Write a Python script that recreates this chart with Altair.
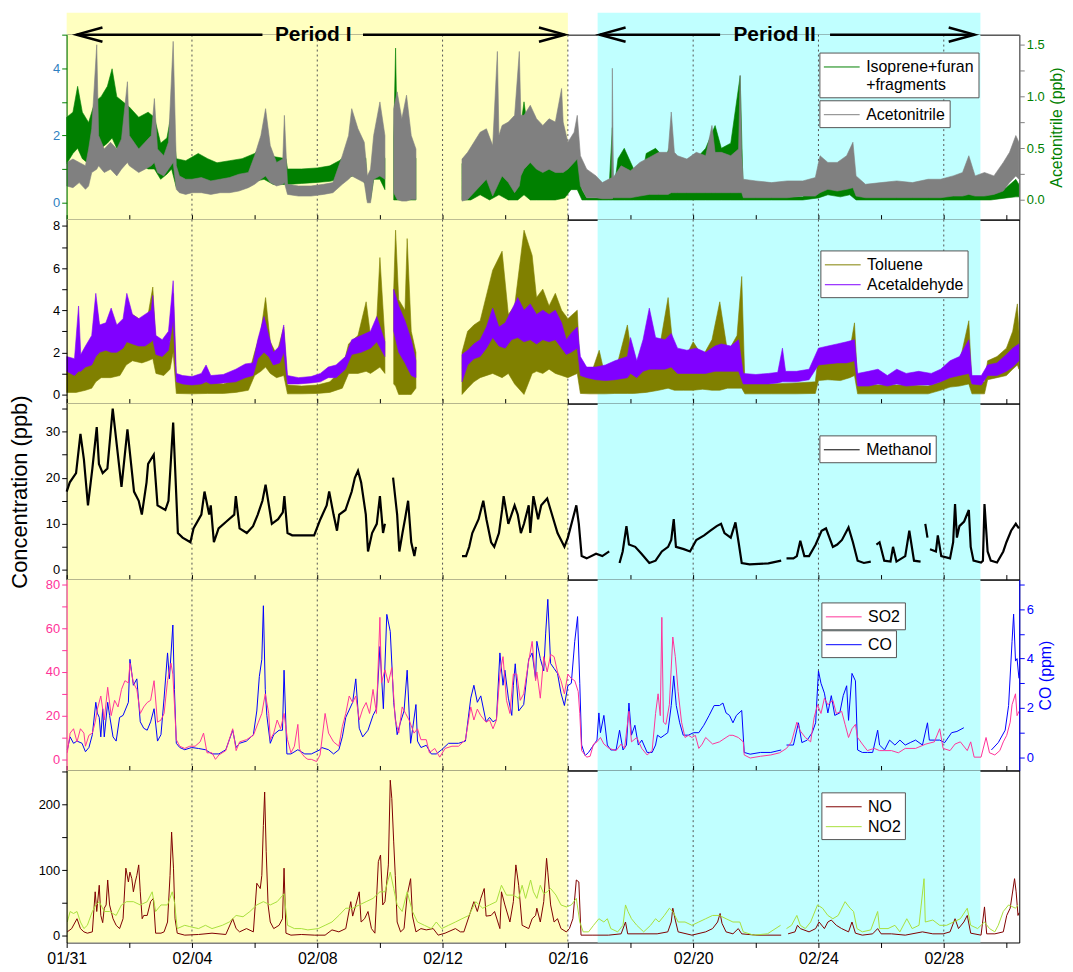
import altair as alt
import pandas as pd

W = 958
X_DOMAIN = [0, 30.41]
FONT = "Liberation Sans"

# ---------------- annotation / layout helpers (days since 01/31 00:00) ----------------
period_names = ["Period I", "Period II"]
period_start = [0.0, 16.95]
period_end = [16.0, 29.17]
grid_days = [4, 8, 12, 16, 20, 24, 28]
x_tick_days = list(range(0, 31, 2))
arrow_seg_start = [0.32, 9.46, 17.02, 24.37]
arrow_seg_end = [6.25, 15.9, 20.86, 28.98]
arrow_left_days = [0.73, 17.43]
arrow_right_days = [15.49, 28.57]
label_days = [7.87, 22.6]

# ---------------- data ----------------
grey_band = [
    (0.0, 0.5, 1.2), (0.2, 0.45, 1.3), (0.4, 0.6, 1.2), (0.6, 0.4, 1.1), (0.7, 0.5, 1.6), (0.8, 0.9, 2.2),
    (0.96, 1.0, 4.7), (1.02, 1.1, 2.0), (1.2, 0.9, 1.6), (1.4, 1.0, 1.8), (1.6, 0.8, 1.6), (1.75, 1.0, 1.9),
    (1.94, 1.2, 3.6), (2.0, 1.1, 2.0), (2.3, 0.9, 1.6), (2.5, 1.0, 1.8), (2.7, 1.1, 2.0), (2.8, 1.2, 3.1),
    (2.9, 0.9, 1.6), (3.1, 0.8, 1.4), (3.25, 1.0, 1.8), (3.4, 1.2, 4.8), (3.5, 0.4, 1.1), (3.6, 0.3, 0.8),
    (3.8, 0.25, 0.7), (4.0, 0.3, 0.7), (4.3, 0.3, 0.75), (4.6, 0.25, 0.65), (4.9, 0.3, 0.7), (5.2, 0.3, 0.75),
    (5.5, 0.35, 0.85), (5.8, 0.45, 0.9), (6.0, 0.55, 1.4), (6.2, 0.7, 2.0), (6.35, 0.8, 2.8), (6.5, 0.6, 1.7),
    (6.7, 0.5, 1.2), (6.9, 0.55, 1.3), (6.95, 0.6, 2.6), (7.05, 0.25, 0.55), (7.4, 0.2, 0.5), (7.8, 0.2, 0.5),
    (8.2, 0.25, 0.55), (8.5, 0.3, 0.6), (8.8, 0.55, 1.4), (9.0, 0.7, 2.0), (9.1, 0.8, 2.8), (9.3, 0.7, 2.2),
    (9.5, 0.6, 1.8), (9.6, 0.0, 0.8), (9.7, 0.0, 1.0), (9.8, 0.7, 2.0), (10.0, 0.8, 3.0), (10.16, 0.7, 2.0),
    (10.3, None, None), (10.44, 0.3, 2.8), (10.55, 0.1, 3.3), (10.7, 0.05, 2.5), (10.85, 0.05, 3.2),
    (11.0, 0.1, 2.0), (11.15, 0.1, 1.6), (11.9, None, None), (12.62, 0.05, 1.3), (12.8, 0.1, 1.5),
    (13.0, 0.3, 1.8), (13.2, 0.5, 2.1), (13.4, 0.7, 2.2), (13.6, 0.2, 1.7), (13.75, 0.5, 4.5), (13.8, 0.6, 2.0),
    (13.9, 0.8, 2.3), (14.1, 0.6, 2.4), (14.3, 0.3, 2.6), (14.45, 0.5, 4.5), (14.5, 0.8, 2.6), (14.6, 1.0, 2.6),
    (14.8, 1.2, 2.9), (15.0, 1.0, 2.5), (15.2, 0.9, 2.3), (15.4, 1.0, 2.5), (15.6, 0.9, 2.4), (15.8, 0.9, 3.4),
    (15.85, 0.9, 2.4), (16.0, 1.0, 1.8), (16.2, 1.2, 2.1), (16.3, 1.3, 2.6), (16.4, 0.5, 1.4),
    (16.6, 0.15, 1.0), (16.9, 0.15, 0.8), (17.1, 0.12, 0.6), (17.4, 0.12, 0.75), (17.42, 0.12, 4.0),
    (17.45, 0.15, 0.75), (17.7, 0.15, 1.1), (18.0, 0.15, 0.95), (18.3, 0.2, 1.2), (18.6, 0.25, 1.35),
    (18.9, 0.25, 1.5), (19.2, 0.25, 1.5), (19.3, 0.3, 2.7), (19.4, 0.3, 1.5), (19.5, 0.3, 1.4), (19.8, 0.3, 1.3),
    (20.1, 0.3, 1.5), (20.4, 0.3, 1.4), (20.6, 0.3, 2.3), (20.7, 0.3, 1.5), (20.9, 0.3, 1.5), (21.2, 0.3, 1.4),
    (21.45, 0.3, 1.6), (21.5, 0.3, 3.8), (21.55, 0.3, 1.4), (21.6, 0.15, 0.7), (22.0, 0.15, 0.65),
    (22.5, 0.15, 0.6), (23.0, 0.15, 0.65), (23.5, 0.2, 0.65), (23.9, 0.2, 0.75), (24.05, 0.3, 1.4),
    (24.3, 0.4, 1.2), (24.6, 0.35, 1.2), (24.9, 0.4, 1.4), (25.1, 0.45, 1.8), (25.2, 0.2, 0.8),
    (25.5, 0.15, 0.55), (26.0, 0.15, 0.6), (26.5, 0.15, 0.65), (27.0, 0.15, 0.6), (27.5, 0.15, 0.7),
    (27.9, 0.15, 0.7), (28.3, 0.2, 0.8), (28.6, 0.2, 0.9), (28.8, 0.25, 1.4), (29.0, 0.2, 0.8),
    (29.3, 0.2, 0.9), (29.6, 0.25, 0.8), (29.9, 0.35, 1.2), (30.1, 0.6, 1.5), (30.3, 0.8, 2.0), (30.4, 0.7, 1.8),
]
green_band = [
    (0.0, 0.35, 0.8), (0.2, 0.45, 0.85), (0.35, 0.5, 1.1), (0.5, 0.4, 0.85), (0.7, 0.35, 0.75), (0.9, 0.45, 0.95),
    (1.1, 0.5, 1.0), (1.3, 0.55, 1.1), (1.45, 0.6, 1.27), (1.6, 0.5, 1.0), (1.8, 0.45, 0.95), (2.0, 0.4, 0.9),
    (2.3, 0.35, 0.8), (2.6, 0.3, 0.85), (2.8, 0.3, 0.8), (3.0, 0.2, 0.55), (3.2, 0.25, 0.6), (3.35, 0.3, 0.85),
    (3.5, 0.12, 0.4), (3.8, 0.12, 0.38), (4.2, 0.15, 0.45), (4.5, 0.14, 0.4), (4.8, 0.13, 0.36),
    (5.2, 0.13, 0.38), (5.6, 0.15, 0.4), (6.0, 0.18, 0.45), (6.3, 0.2, 0.55), (6.6, 0.15, 0.42),
    (7.0, 0.15, 0.4), (7.05, 0.15, 0.3), (7.5, 0.16, 0.3), (8.0, 0.17, 0.31), (8.4, 0.18, 0.33),
    (8.7, 0.2, 0.38), (9.0, 0.22, 0.45), (9.3, 0.25, 0.5), (9.55, 0.15, 0.4), (9.6, 0.0, 0.05),
    (9.7, 0.0, 0.1), (9.8, 0.2, 0.4), (10.0, 0.2, 0.55), (10.16, 0.1, 0.4), (10.3, None, None),
    (10.44, 0.0, 0.6), (10.5, 0.0, 1.47), (10.55, 0.0, 0.6), (10.8, 0.0, 0.8), (11.0, 0.0, 0.5),
    (11.15, 0.0, 0.4), (11.9, None, None), (12.62, 0.0, 0.35), (12.9, 0.0, 0.45), (13.2, 0.05, 0.5),
    (13.5, 0.0, 0.4), (13.8, 0.05, 0.55), (14.1, 0.0, 0.45), (14.4, 0.0, 0.5), (14.6, 0.05, 0.95),
    (14.8, 0.0, 0.5), (15.0, 0.0, 0.4), (15.3, 0.0, 0.45), (15.6, 0.0, 0.4), (15.9, 0.02, 0.3),
    (16.1, 0.1, 0.4), (16.3, 0.1, 0.46), (16.45, 0.0, 0.1), (16.6, 0.0, 0.02), (17.0, 0.0, 0.02),
    (17.3, 0.0, 0.03), (17.42, 0.0, 0.7), (17.45, 0.0, 0.05), (17.6, 0.0, 0.4), (17.8, 0.0, 0.5),
    (18.1, 0.0, 0.3), (18.3, 0.0, 0.1), (18.5, 0.0, 0.45), (18.8, 0.0, 0.5), (19.1, 0.0, 0.4),
    (19.3, 0.0, 0.55), (19.5, 0.0, 0.3), (19.8, 0.0, 0.35), (20.1, 0.0, 0.4), (20.4, 0.0, 0.5),
    (20.7, 0.0, 0.72), (20.9, 0.0, 0.5), (21.2, 0.0, 0.55), (21.5, 0.0, 1.2), (21.6, 0.0, 0.03),
    (22.5, 0.0, 0.03), (23.5, 0.0, 0.03), (24.0, 0.02, 0.18), (24.3, 0.05, 0.23), (24.7, 0.03, 0.2),
    (25.0, 0.05, 0.25), (25.2, 0.0, 0.05), (26.0, 0.0, 0.04), (27.0, 0.0, 0.05), (28.0, 0.0, 0.05),
    (28.8, 0.0, 0.1), (29.5, 0.0, 0.05), (30.0, 0.02, 0.12), (30.3, 0.03, 0.2), (30.4, 0.03, 0.15),
]
toluene_band = [
    (0.0, 0.1, 1.1), (0.3, 0.1, 1.2), (0.6, 0.2, 1.6), (0.8, 0.3, 2.1), (0.93, 0.6, 4.4), (1.1, 0.8, 2.7),
    (1.4, 0.8, 2.9), (1.7, 0.9, 2.7), (1.9, 1.4, 3.6), (2.1, 1.6, 3.8), (2.4, 1.5, 3.5), (2.6, 1.6, 3.8),
    (2.75, 1.7, 5.1), (2.85, 1.0, 2.3), (3.1, 0.9, 2.1), (3.3, 1.2, 2.5), (3.4, 2.0, 4.8), (3.5, 0.05, 0.6),
    (4.0, 0.03, 0.5), (4.5, 0.05, 0.6), (5.0, 0.05, 0.5), (5.4, 0.1, 0.7), (5.8, 0.2, 0.9), (6.0, 0.9, 2.0),
    (6.2, 1.1, 3.0), (6.35, 1.3, 4.6), (6.5, 1.0, 2.5), (6.7, 0.8, 1.9), (6.93, 0.9, 3.2), (7.05, 0.03, 0.45),
    (7.5, 0.03, 0.4), (8.0, 0.05, 0.45), (8.4, 0.1, 0.6), (8.8, 0.3, 1.2), (9.0, 1.0, 2.4), (9.3, 1.0, 2.8),
    (9.56, 1.1, 4.4), (9.7, 1.0, 2.8), (9.9, 1.2, 3.6), (10.0, 1.3, 6.5), (10.16, 1.0, 2.6), (10.3, None, None),
    (10.44, 0.5, 5.0), (10.5, 0.4, 7.8), (10.6, 0.0, 4.5), (10.8, 0.0, 4.0), (10.87, 0.0, 7.4),
    (11.0, 0.0, 3.0), (11.15, 0.3, 2.0), (11.9, None, None), (12.62, 0.0, 2.0), (12.8, 0.3, 3.0),
    (13.0, 0.6, 3.3), (13.2, 0.8, 3.5), (13.6, 1.0, 5.9), (13.9, 0.8, 6.8), (14.1, 1.0, 3.8), (14.3, 0.5, 4.2),
    (14.6, 0.0, 7.8), (14.86, 1.0, 6.6), (15.0, 1.1, 4.6), (15.2, 1.0, 5.0), (15.4, 1.2, 4.2),
    (15.6, 1.0, 4.8), (15.8, 0.9, 4.0), (16.0, 0.8, 3.6), (16.3, 1.0, 4.0), (16.4, 0.05, 1.0),
    (16.7, 0.03, 0.8), (17.0, 0.03, 2.1), (17.2, 0.03, 0.8), (17.5, 0.05, 1.0), (17.9, 0.05, 3.3),
    (18.1, 0.05, 1.2), (18.5, 0.1, 1.5), (18.9, 0.2, 2.0), (19.2, 0.3, 4.6), (19.4, 0.2, 1.6),
    (19.7, 0.2, 1.6), (20.0, 0.2, 2.5), (20.3, 0.25, 1.8), (20.6, 0.2, 2.6), (20.85, 0.2, 4.4),
    (21.1, 0.3, 2.0), (21.4, 0.3, 2.8), (21.55, 0.3, 5.6), (21.65, 0.03, 0.6), (22.5, 0.03, 0.5),
    (23.3, 0.03, 0.55), (23.9, 0.05, 0.6), (24.0, 0.66, 1.9), (24.3, 0.7, 1.7), (24.7, 0.66, 1.9),
    (25.0, 0.8, 2.1), (25.15, 0.9, 3.4), (25.25, 0.03, 0.5), (26.0, 0.03, 0.45), (26.8, 0.03, 0.45),
    (27.5, 0.03, 0.4), (27.9, 0.2, 0.6), (28.2, 0.35, 1.2), (28.5, 0.4, 1.5), (28.8, 0.5, 3.5),
    (28.9, 0.03, 0.5), (29.3, 0.03, 0.6), (29.4, 0.7, 1.6), (29.7, 0.8, 1.8), (30.0, 0.9, 2.2),
    (30.2, 1.2, 3.0), (30.35, 1.4, 4.3), (30.4, 1.2, 3.0),
]
acetaldehyde_band = [
    (0.0, 1.1, 1.8), (0.25, 0.9, 1.7), (0.38, 1.1, 4.2), (0.45, 1.1, 1.9), (0.6, 1.3, 2.3), (0.8, 1.4, 2.8),
    (0.93, 1.8, 4.8), (1.05, 2.0, 3.3), (1.25, 2.1, 3.4), (1.42, 2.0, 4.1), (1.6, 2.0, 3.3), (1.8, 2.2, 3.6),
    (1.92, 2.5, 4.8), (2.1, 2.4, 3.8), (2.3, 2.3, 3.6), (2.5, 2.3, 3.8), (2.7, 2.5, 4.0), (2.75, 2.6, 4.7),
    (2.85, 1.9, 2.8), (3.05, 1.8, 2.6), (3.25, 2.1, 3.0), (3.4, 3.5, 5.4), (3.5, 0.6, 1.0), (3.7, 0.5, 0.9),
    (4.0, 0.45, 0.85), (4.3, 0.5, 1.0), (4.45, 0.6, 1.4), (4.6, 0.5, 0.9), (5.0, 0.55, 0.95), (5.4, 0.6, 1.2),
    (5.7, 0.8, 1.45), (5.95, 0.9, 1.5), (6.1, 1.7, 2.6), (6.3, 2.0, 3.7), (6.45, 1.8, 2.8), (6.6, 1.4, 2.0),
    (6.8, 1.5, 2.3), (6.93, 2.0, 3.3), (7.05, 0.5, 0.9), (7.4, 0.5, 0.8), (7.8, 0.55, 0.85), (8.1, 0.6, 1.0),
    (8.35, 0.8, 1.3), (8.6, 0.8, 1.4), (8.9, 1.2, 1.8), (9.1, 1.9, 2.6), (9.4, 2.0, 2.8), (9.7, 2.2, 3.0),
    (9.9, 2.5, 3.7), (10.16, 1.8, 2.5), (10.3, None, None), (10.44, 3.0, 5.0), (10.6, 2.0, 4.2),
    (10.8, 1.5, 3.5), (11.0, 0.9, 2.6), (11.15, 0.8, 1.6), (11.9, None, None), (12.62, 0.6, 1.9),
    (12.8, 1.4, 2.1), (13.0, 1.7, 2.4), (13.2, 1.8, 2.6), (13.4, 2.2, 3.2), (13.6, 2.7, 4.1), (13.8, 2.3, 3.2),
    (14.0, 2.2, 3.4), (14.2, 2.6, 4.0), (14.4, 2.7, 4.6), (14.6, 2.5, 4.0), (14.8, 2.6, 4.3), (15.0, 2.4, 3.8),
    (15.2, 2.6, 4.0), (15.4, 2.5, 3.8), (15.6, 2.6, 4.0), (15.8, 2.2, 3.4), (15.95, 1.9, 2.6), (16.1, 2.0, 2.9),
    (16.3, 2.2, 3.2), (16.4, 0.9, 1.8), (16.6, 0.8, 1.3), (16.9, 0.7, 1.3), (17.2, 0.66, 1.4), (17.5, 0.7, 1.6),
    (17.9, 0.8, 1.8), (18.0, 1.0, 2.7), (18.2, 0.8, 1.6), (18.4, 1.1, 2.6), (18.6, 1.2, 4.1), (18.8, 1.2, 2.7),
    (19.1, 1.2, 2.6), (19.3, 1.3, 2.9), (19.5, 1.0, 2.2), (19.8, 1.0, 2.1), (20.1, 1.0, 2.2), (20.4, 1.0, 2.0),
    (20.7, 1.1, 2.3), (20.9, 1.1, 2.4), (21.2, 1.1, 2.3), (21.45, 1.1, 2.6), (21.6, 0.5, 1.0), (22.0, 0.5, 0.95),
    (22.4, 0.5, 1.0), (22.7, 0.55, 1.05), (22.85, 0.6, 2.2), (22.95, 0.6, 1.1), (23.3, 0.6, 1.1),
    (23.7, 0.7, 1.2), (24.0, 1.4, 2.2), (24.3, 1.45, 2.3), (24.6, 1.5, 2.4), (24.9, 1.5, 2.5), (25.15, 1.6, 2.6),
    (25.25, 0.4, 1.0), (25.6, 0.4, 1.1), (25.9, 0.5, 1.2), (26.2, 0.4, 0.9), (26.5, 0.5, 1.2), (26.8, 0.4, 1.0),
    (27.2, 0.45, 1.1), (27.6, 0.45, 1.0), (27.9, 0.6, 1.2), (28.2, 0.8, 1.6), (28.5, 0.9, 1.8), (28.8, 1.0, 2.6),
    (28.9, 0.5, 0.9), (29.2, 0.45, 0.9), (29.4, 0.9, 1.4), (29.7, 0.9, 1.5), (30.0, 1.1, 1.9), (30.2, 1.3, 2.2),
    (30.4, 1.6, 2.4),
]
methanol = [
    (0.0, 17), (0.1, 19), (0.3, 21), (0.44, 29.5), (0.55, 24), (0.68, 14), (0.82, 22), (0.96, 31), (1.03, 23),
    (1.15, 21), (1.3, 22), (1.47, 35), (1.75, 18), (1.94, 30.5), (2.15, 17), (2.3, 15), (2.4, 12), (2.55, 19),
    (2.6, 23), (2.78, 25), (2.9, 14), (3.15, 13), (3.25, 15), (3.4, 32), (3.55, 8), (3.7, 7), (3.95, 6),
    (4.05, 9), (4.3, 12), (4.4, 17), (4.55, 12), (4.6, 14), (4.7, 6), (4.85, 9), (5.1, 10.5), (5.35, 12),
    (5.4, 16), (5.52, 9), (5.75, 8), (5.95, 9.5), (6.1, 12), (6.25, 15), (6.35, 18.5), (6.55, 10), (6.75, 11),
    (6.9, 12.5), (6.95, 16), (7.05, 8), (7.2, 7.5), (7.6, 7.5), (7.9, 7.5), (8.1, 11), (8.3, 14), (8.38, 17),
    (8.52, 12), (8.63, 8.5), (8.7, 12), (8.9, 13), (9.1, 17), (9.2, 20), (9.3, 21.5), (9.4, 19), (9.55, 12),
    (9.62, 4), (9.75, 8), (9.9, 10), (10.0, 16), (10.1, 8), (10.16, 10), (10.3, None), (10.42, 20),
    (10.55, 12), (10.62, 4), (10.72, 8), (10.8, 11), (10.9, 15), (11.0, 6), (11.1, 3), (11.15, 5),
    (11.9, None), (12.62, 3), (12.75, 3), (12.85, 5), (12.95, 8), (13.15, 11), (13.3, 15), (13.4, 11),
    (13.55, 6), (13.65, 5), (13.8, 8), (13.9, 13), (13.95, 16), (14.1, 10), (14.3, 14), (14.4, 12), (14.5, 8),
    (14.6, 10), (14.75, 14), (14.8, 8), (14.9, 16), (15.05, 11), (15.15, 14), (15.34, 15.5), (15.45, 13),
    (15.67, 8), (15.89, 5), (16.0, 7), (16.27, 14), (16.35, 10), (16.44, 3), (16.6, 2.5), (16.9, 3.5),
    (17.1, 3), (17.32, 4), (17.5, None), (17.65, 1.5), (17.75, 4), (17.87, 9.5), (17.95, 5.5), (18.15, 5),
    (18.35, 3.5), (18.6, 1.5), (18.8, 2), (19.0, 4), (19.2, 5), (19.3, 6.5), (19.38, 11), (19.45, 5),
    (19.7, 4.5), (19.9, 4), (20.1, 6.5), (20.35, 7.5), (20.55, 8.5), (20.75, 9.5), (20.89, 10), (21.0, 8),
    (21.2, 7), (21.35, 10.3), (21.45, 6), (21.55, 1.5), (21.8, 1.2), (22.1, 1.3), (22.4, 1.4), (22.81, 2),
    (22.9, None), (22.98, 2.5), (23.2, 2.5), (23.31, 3), (23.42, 6.3), (23.55, 3), (23.7, 3), (23.91, 5.5),
    (24.1, 8.5), (24.24, 9), (24.35, 7), (24.46, 5), (24.6, 5.5), (24.75, 6.5), (24.96, 9.2), (25.1, 6),
    (25.25, 2), (25.45, 1.5), (25.67, 1.8), (25.76, None), (25.85, 5.5), (25.95, 6), (26.1, 2), (26.3, 1.8),
    (26.38, 5), (26.49, 1.8), (26.77, 3), (26.9, 8.5), (27.05, 2), (27.26, 1.8), (27.33, None), (27.41, 10),
    (27.48, 7), (27.52, None), (27.56, 4.5), (27.75, 4), (27.81, 7.5), (27.92, 3), (28.2, 2.5), (28.3, 6),
    (28.36, 14.3), (28.42, 7), (28.5, 9.5), (28.65, 10.5), (28.8, 13), (28.86, 5), (28.95, 2), (29.19, 1.6),
    (29.25, 2), (29.3, 14.3), (29.4, 4), (29.5, 2), (29.7, 1.6), (29.9, 4), (30.0, 6), (30.15, 8.5),
    (30.3, 10), (30.4, 9),
]
so2 = [
    (0.02, 3), (0.11, 12), (0.22, 14), (0.33, 8), (0.44, 14), (0.55, 12), (0.6, 6), (0.71, 11), (0.82, 12),
    (0.91, 17), (0.98, 23), (1.09, 29), (1.2, 18), (1.31, 33), (1.42, 20), (1.53, 27), (1.64, 24), (1.75, 32),
    (1.86, 36), (1.97, 35), (2.02, 44), (2.13, 35), (2.24, 32), (2.35, 21), (2.46, 24), (2.57, 26), (2.68, 27),
    (2.79, 36), (2.9, 17), (3.01, 18), (3.11, 21), (3.22, 36), (3.33, 44), (3.39, 39), (3.5, 9), (3.61, 6),
    (3.77, 5), (3.93, 6), (4.1, 6), (4.26, 8), (4.37, 12), (4.48, 3), (4.64, 3), (4.75, 0), (4.86, 2),
    (5.08, 4), (5.3, 14), (5.41, 4), (5.52, 8), (5.74, 9), (5.96, 11), (6.12, 17), (6.23, 21), (6.34, 30),
    (6.45, 21), (6.5, 9), (6.61, 12), (6.72, 18), (6.83, 14), (6.94, 21), (7.05, 9), (7.16, 3), (7.27, 6),
    (7.38, 16), (7.43, 5), (7.49, 3), (7.6, 1), (7.7, 0), (7.81, 0), (7.98, -1), (8.09, 2), (8.25, 21),
    (8.36, 12), (8.52, 8), (8.69, 6), (8.8, 15), (8.91, 21), (9.02, 29), (9.13, 26), (9.23, 29), (9.34, 18),
    (9.45, 23), (9.56, 26), (9.67, 21), (9.78, 32), (9.89, 21), (10.0, 65), (10.05, 35), (10.16, 41),
    (10.27, 35), (10.38, 42), (10.49, 18), (10.6, 12), (10.71, 24), (10.82, 21), (10.93, 18), (11.09, 12),
    (11.2, 14), (11.31, 9), (11.48, 9), (11.58, 3), (11.75, 5), (11.91, 1), (12.08, 5), (12.3, 6),
    (12.51, 6), (12.73, 9), (12.9, 24), (13.0, 18), (13.11, 23), (13.22, 20), (13.39, 17), (13.5, 18),
    (13.61, 14), (13.72, 18), (13.83, 39), (13.93, 47), (14.04, 27), (14.15, 21), (14.26, 39), (14.37, 39),
    (14.48, 27), (14.59, 30), (14.75, 45), (14.86, 54), (14.97, 36), (15.01, 40), (15.12, 28), (15.23, 47),
    (15.34, 40), (15.45, 48), (15.56, 47), (15.67, 40), (15.78, 36), (15.89, 30), (16.0, 39), (16.11, 37),
    (16.22, 36), (16.33, 31), (16.38, 21), (16.44, 4), (16.6, 1), (16.71, 1.4), (16.82, 7), (16.93, 8),
    (17.04, 10), (17.15, 7), (17.32, 5), (17.54, 4), (17.7, 7), (17.81, 5), (17.95, 22), (18.03, 8),
    (18.2, 10), (18.36, 5), (18.53, 2), (18.69, 4), (18.8, 21), (18.88, 30), (18.95, 20), (19.0, 65),
    (19.05, 17), (19.13, 16), (19.24, 25), (19.35, 56), (19.43, 47), (19.52, 31), (19.63, 17), (19.74, 10),
    (19.85, 11), (19.96, 10), (20.07, 11), (20.18, 5), (20.29, 7), (20.4, 10), (20.62, 7), (20.84, 8),
    (21.05, 10), (21.16, 11), (21.27, 11), (21.44, 10), (21.6, 8), (21.63, 2), (21.82, 0.6), (22.15, 1.4),
    (22.48, 2), (22.76, 3), (22.98, 5), (23.14, 8), (23.31, 17), (23.42, 13), (23.58, 10), (23.75, 8),
    (23.86, 19), (23.97, 25), (24.08, 21), (24.19, 28), (24.3, 25), (24.46, 27), (24.57, 21), (24.74, 22),
    (24.85, 16), (24.96, 10), (25.07, 14), (25.18, 16), (25.25, 10), (25.4, 7), (25.56, 4), (25.78, 5),
    (25.95, 4), (26.11, 4), (26.33, 4), (26.55, 3), (26.77, 5), (27.1, 5), (27.43, 7), (27.7, 8), (27.87, 14),
    (27.98, 5), (28.2, 4), (28.36, 7), (28.53, 8), (28.75, 4), (28.86, 8), (28.97, 1), (29.19, 1), (29.35, 10),
    (29.46, 3), (29.63, 2), (29.79, 4), (29.9, 8), (30.01, 11), (30.12, 17), (30.18, 25), (30.29, 30),
    (30.34, 20), (30.4, 22),
]
co = [
    (0.02, 0.31), (0.11, 0.83), (0.22, 0.57), (0.33, 0.66), (0.49, 0.57), (0.6, 0.23), (0.71, 0.4),
    (0.82, 0.92), (0.93, 2.23), (0.98, 1.79), (1.04, 1.62), (1.09, 0.83), (1.15, 1.97), (1.2, 0.83),
    (1.31, 2.23), (1.37, 1.7), (1.48, 0.83), (1.58, 0.66), (1.69, 1.62), (1.8, 1.7), (1.97, 2.23), (2.02, 3.97),
    (2.13, 2.92), (2.24, 3.18), (2.35, 1.44), (2.46, 1.18), (2.57, 1.1), (2.68, 1.44), (2.79, 1.97), (2.9, 0.66),
    (3.01, 0.92), (3.11, 2.4), (3.22, 4.23), (3.28, 3.18), (3.39, 5.36), (3.44, 2.75), (3.5, 0.57), (3.61, 0.4),
    (3.77, 0.31), (3.99, 0.4), (4.21, 0.36), (4.43, 0.31), (4.64, 0.14), (4.86, 0.14), (5.08, 0.31), (5.3, 1.1),
    (5.41, 0.4), (5.52, 0.57), (5.74, 0.66), (5.96, 0.92), (6.07, 1.88), (6.15, 3.27), (6.23, 3.97),
    (6.28, 6.14), (6.34, 2.75), (6.39, 1.7), (6.5, 0.57), (6.61, 0.92), (6.78, 1.1), (6.89, 1.1), (6.94, 3.53),
    (7.03, 0.14), (7.16, 0.14), (7.38, 0.31), (7.6, 0.14), (7.81, 0.14), (8.09, 0.31), (8.14, 0.4), (8.36, 0.31),
    (8.52, 0.14), (8.69, 0.31), (8.8, 0.83), (8.91, 1.62), (9.13, 2.23), (9.23, 3.18), (9.34, 1.18),
    (9.45, 0.83), (9.62, 1.1), (9.78, 1.7), (9.89, 1.97), (10.0, 4.49), (10.11, 1.97), (10.22, 5.79),
    (10.33, 5.1), (10.44, 2.23), (10.55, 0.92), (10.66, 1.44), (10.77, 1.88), (10.87, 3.53), (10.98, 0.57),
    (11.15, 2.14), (11.2, 0.66), (11.31, 0.4), (11.48, 0.49), (11.64, 0.14), (11.8, 0.14), (11.97, 0.31),
    (12.19, 0.57), (12.51, 0.57), (12.73, 0.66), (12.9, 2.4), (13.0, 2.92), (13.11, 2.23), (13.22, 2.49),
    (13.39, 1.44), (13.5, 1.62), (13.61, 1.44), (13.72, 1.53), (13.83, 4.23), (13.93, 2.92), (13.99, 3.53),
    (14.1, 2.4), (14.21, 1.7), (14.26, 2.92), (14.32, 3.79), (14.43, 1.88), (14.59, 2.14), (14.75, 3.97),
    (14.86, 4.23), (14.97, 3.18), (15.01, 4.7), (15.12, 4.0), (15.23, 3.5), (15.29, 5.0), (15.36, 6.4),
    (15.45, 3.8), (15.56, 3.6), (15.67, 3.4), (15.78, 2.6), (15.89, 2.1), (16.0, 2.9), (16.11, 3.0),
    (16.22, 4.7), (16.31, 5.7), (16.38, 3.0), (16.44, 0.5), (16.55, 0.07), (16.66, 0.2), (16.82, 0.5),
    (16.93, 0.7), (16.99, 1.8), (17.04, 1.0), (17.15, 1.7), (17.26, 0.5), (17.37, 0.3), (17.54, 0.3),
    (17.65, 1.1), (17.76, 0.3), (17.87, 0.5), (17.95, 2.2), (18.03, 0.9), (18.14, 1.3), (18.25, 0.5),
    (18.36, 0.7), (18.53, 0.2), (18.69, 0.2), (18.8, 0.5), (18.86, 0.9), (18.97, 0.8), (19.08, 0.9),
    (19.19, 1.0), (19.3, 2.1), (19.38, 3.3), (19.46, 2.1), (19.57, 1.4), (19.68, 0.9), (19.85, 0.9),
    (20.01, 1.0), (20.18, 1.0), (20.34, 1.3), (20.51, 1.7), (20.67, 2.1), (20.84, 2.1), (20.95, 2.2),
    (21.05, 1.8), (21.16, 1.7), (21.27, 1.4), (21.38, 1.7), (21.55, 1.9), (21.63, 0.2), (21.82, 0.13),
    (22.15, 0.2), (22.48, 0.2), (22.81, 0.3), (22.9, None), (22.98, 0.5), (23.2, 0.5), (23.36, 1.4),
    (23.47, 0.6), (23.64, 0.7), (23.8, 1.0), (23.91, 1.4), (24.0, 3.5), (24.08, 3.0), (24.19, 2.6),
    (24.3, 1.8), (24.41, 2.5), (24.52, 1.7), (24.68, 1.8), (24.79, 2.5), (24.9, 2.9), (24.96, 1.5),
    (25.07, 3.4), (25.18, 3.1), (25.25, 0.3), (25.4, 0.2), (25.56, 0.2), (25.73, 0.2), (25.89, 1.1),
    (25.95, 0.5), (26.11, 0.3), (26.27, 0.7), (26.44, 0.5), (26.6, 0.7), (26.77, 0.5), (26.93, 0.6),
    (27.1, 0.7), (27.32, 0.5), (27.48, 1.4), (27.54, 0.7), (27.7, 0.7), (27.87, 0.7), (28.03, 0.6),
    (28.25, 1.0), (28.42, 1.05), (28.64, 1.2), (29.0, None), (29.52, 0.3), (29.74, 0.6), (29.96, 1.1),
    (30.07, 2.1), (30.18, 4.7), (30.23, 5.8), (30.29, 3.9), (30.34, 4.0), (30.4, 3.2),
]
no = [
    (0.02, 6), (0.16, 11), (0.33, 26), (0.44, 11), (0.55, 6), (0.66, 4), (0.82, 6), (0.91, 67), (0.96, 37),
    (1.04, 77), (1.09, 31), (1.15, 20), (1.2, 42), (1.26, 47), (1.31, 85), (1.37, 47), (1.48, 26), (1.58, 16),
    (1.69, 11), (1.8, 26), (1.89, 103), (1.97, 82), (2.02, 97), (2.08, 87), (2.13, 67), (2.19, 82), (2.24, 92),
    (2.3, 108), (2.35, 67), (2.41, 26), (2.46, 31), (2.57, 31), (2.68, 52), (2.77, 57), (2.84, 4), (3.01, 4),
    (3.11, 6), (3.22, 21), (3.3, 92), (3.35, 158), (3.41, 103), (3.46, 26), (3.53, 4), (3.77, 1), (4.21, 2),
    (4.64, 4), (5.08, 2), (5.3, 26), (5.41, 11), (5.52, 6), (5.74, 11), (5.96, 6), (6.07, 80), (6.18, 72),
    (6.23, 92), (6.28, 168), (6.32, 219), (6.37, 128), (6.43, 47), (6.5, 21), (6.61, 11), (6.78, 16),
    (6.89, 26), (6.94, 103), (7.0, 4), (7.16, 1), (7.49, 2), (7.92, 1), (8.25, 1), (8.47, 9), (8.69, 6),
    (8.91, 11), (9.07, 52), (9.13, 30), (9.23, 47), (9.34, 67), (9.4, 21), (9.51, 26), (9.62, 37), (9.73, 11),
    (9.84, 4), (9.95, 113), (10.02, 123), (10.09, 47), (10.16, 52), (10.27, 108), (10.33, 237), (10.38, 209),
    (10.44, 143), (10.49, 92), (10.55, 21), (10.66, 6), (10.77, 11), (10.87, 62), (10.98, 87), (11.04, 30),
    (11.15, 6), (11.31, 11), (11.48, 9), (11.7, 11), (11.86, 1), (12.08, 4), (12.41, 11), (12.57, 6),
    (12.68, 6), (13.0, 52), (13.11, 37), (13.22, 57), (13.33, 72), (13.39, 30), (13.55, 31), (13.66, 37),
    (13.83, 11), (13.88, 67), (13.99, 47), (14.15, 21), (14.26, 52), (14.34, 108), (14.43, 77), (14.54, 16),
    (14.75, 11), (14.86, 26), (14.97, 31), (15.01, 42), (15.12, 21), (15.23, 52), (15.32, 118), (15.36, 97),
    (15.45, 47), (15.56, 21), (15.67, 26), (15.78, 11), (15.95, 6), (16.05, 11), (16.16, 26), (16.27, 85),
    (16.35, 82), (16.42, 1), (16.8, 1), (17.3, 1), (17.7, 3), (17.84, 21), (17.91, 3), (18.4, 3), (18.85, 3),
    (19.19, 6), (19.3, 21), (19.35, 42), (19.43, 24), (19.52, 6), (19.96, 1), (20.4, 6), (20.62, 11),
    (20.78, 21), (20.86, 34), (20.92, 19), (21.05, 6), (21.27, 3), (21.44, 11), (21.55, 3), (22.0, 1),
    (22.81, 1), (22.9, None), (23.03, 3), (23.25, 6), (23.33, 16), (23.42, 11), (23.7, 6), (23.91, 11),
    (24.02, 21), (24.19, 11), (24.3, 21), (24.41, 24), (24.57, 16), (24.74, 11), (24.96, 6), (25.07, 21),
    (25.18, 4), (25.4, 1), (25.73, 3), (25.89, 11), (26.0, 3), (26.33, 3), (26.77, 1), (27.32, 6), (27.65, 3),
    (27.98, 3), (28.2, 6), (28.36, 26), (28.47, 11), (28.64, 21), (28.75, 31), (28.86, 4), (29.19, 1),
    (29.3, 44), (29.37, 3), (29.63, 3), (29.9, 6), (30.01, 31), (30.12, 42), (30.26, 87), (30.31, 67),
    (30.37, 31), (30.4, 35),
]
no2 = [
    (0.02, 21), (0.11, 37), (0.22, 34), (0.33, 37), (0.44, 21), (0.55, 11), (0.66, 16), (0.82, 37), (0.93, 47),
    (1.04, 52), (1.2, 37), (1.37, 37), (1.58, 31), (1.75, 47), (1.91, 52), (2.13, 52), (2.35, 47), (2.57, 52),
    (2.73, 67), (2.84, 37), (3.01, 47), (3.22, 47), (3.37, 67), (3.44, 52), (3.53, 11), (3.77, 16), (3.93, 14),
    (4.21, 11), (4.43, 16), (4.64, 11), (4.97, 16), (5.19, 21), (5.41, 31), (5.63, 29), (5.85, 37), (6.07, 47),
    (6.28, 52), (6.5, 47), (6.72, 52), (6.94, 64), (7.05, 16), (7.27, 11), (7.49, 11), (7.7, 9), (8.03, 11),
    (8.25, 16), (8.47, 21), (8.69, 31), (8.91, 42), (9.13, 42), (9.34, 47), (9.56, 52), (9.78, 57), (10.0, 67),
    (10.16, 67), (10.33, 97), (10.44, 72), (10.55, 47), (10.71, 37), (10.87, 67), (11.04, 37), (11.2, 21),
    (11.42, 16), (11.64, 11), (11.8, 21), (11.97, 11), (12.19, 16), (12.41, 21), (12.62, 26), (12.84, 31),
    (13.06, 52), (13.28, 42), (13.5, 47), (13.72, 52), (13.88, 77), (14.04, 62), (14.26, 62), (14.43, 57),
    (14.54, 77), (14.65, 57), (14.81, 85), (14.9, 67), (15.01, 57), (15.12, 77), (15.23, 64), (15.34, 67),
    (15.45, 72), (15.62, 62), (15.78, 47), (15.95, 44), (16.11, 47), (16.27, 57), (16.38, 21), (16.49, 6),
    (16.66, 6), (16.82, 16), (16.99, 26), (17.15, 21), (17.26, 26), (17.37, 11), (17.59, 6), (17.76, 16),
    (17.84, 47), (17.92, 37), (18.03, 26), (18.2, 16), (18.42, 6), (18.64, 16), (18.8, 26), (18.91, 21),
    (19.08, 31), (19.24, 42), (19.35, 37), (19.52, 21), (19.74, 21), (19.96, 16), (20.18, 21), (20.4, 26),
    (20.62, 31), (20.84, 31), (21.05, 26), (21.27, 21), (21.49, 21), (21.6, 6), (21.93, 1), (22.37, 3),
    (22.79, 16), (22.9, None), (22.98, 11), (23.14, 16), (23.31, 31), (23.42, 16), (23.58, 11), (23.75, 21),
    (23.97, 47), (24.13, 42), (24.3, 31), (24.46, 26), (24.63, 31), (24.85, 52), (25.01, 42), (25.12, 37),
    (25.23, 11), (25.4, 6), (25.67, 9), (25.89, 37), (25.95, 11), (26.22, 11), (26.44, 16), (26.6, 6),
    (26.82, 26), (26.99, 11), (27.21, 16), (27.37, 87), (27.41, 21), (27.65, 24), (27.87, 16), (28.09, 16),
    (28.31, 21), (28.53, 26), (28.75, 42), (28.86, 16), (29.08, 11), (29.19, 16), (29.3, 21), (29.46, 11),
    (29.63, 6), (29.74, 16), (29.9, 37), (30.07, 47), (30.29, 42), (30.37, 47),
]


# ---------------- helpers ----------------
def pairs_df(pairs, name):
    return pd.DataFrame({"day": [p[0] for p in pairs], "value": [p[1] for p in pairs], "series": name})


def band_df(rows, name):
    return pd.DataFrame({"day": [r[0] for r in rows], "lo": [r[1] for r in rows],
                         "hi": [r[2] for r in rows], "series": name})


xs = alt.Scale(domain=X_DOMAIN, nice=False, zero=False)


def yscale(dom):
    return alt.Scale(domain=dom, nice=False, zero=False)


# ticks sitting on the lower edge of panels 1-4 (pointing up into the panel), drawn above the marks
edge_ticks = alt.Axis(orient="bottom", values=x_tick_days, labels=False, ticks=True, tickSize=5, offset=-5,
                      domain=False, grid=False, tickColor="black", title=None, zindex=2)
bottom_axis = alt.Axis(orient="bottom", values=x_tick_days, labelFlush=False, labelOverlap=False,
                       labelExpr="datum.value == 0 ? '01/31' : (datum.value % 4 == 0 ? '02/' + "
                                 "(datum.value < 10 ? '0' : '') + datum.value : '')",
                       labelFontSize=16, labelPadding=3, tickSize=5, domain=False, grid=False,
                       tickColor="black", labelColor="black", title=None, zindex=2)


def legend(x, y, **kw):
    return alt.Legend(orient="none", legendX=x, legendY=y, title=None, symbolType="M -1 0 L 2.6 0",
                      symbolSize=400, symbolStrokeWidth=1, labelFontSize=16, labelFont=FONT, labelColor="black",
                      fillColor="white", strokeColor="#555555", padding=4, rowPadding=1, labelOffset=22, **kw)


periods_df = pd.DataFrame({"period": period_names, "start": period_start, "end": period_end})
grid_df = pd.DataFrame({"day": grid_days})


def xq(field, xaxis):
    return alt.X(f"{field}:Q", scale=xs, axis=xaxis)


def bg(xaxis):
    return alt.Chart(periods_df).mark_rect().encode(
        x=xq("start", xaxis),
        x2="end:Q",
        fill=alt.Fill("period:N", scale=alt.Scale(domain=period_names, range=["#ffffc0", "#c0ffff"]),
                      legend=None),
    )


def grid(xaxis):
    return alt.Chart(grid_df).mark_rule(strokeDash=[2, 3], color="#555555", strokeWidth=1).encode(
        x=xq("day", xaxis))


def band(df, ydom, yaxis, fill, sscale, leg, xaxis):
    return alt.Chart(df).mark_area(fill=fill, strokeWidth=0.6, opacity=1).encode(
        x=xq("day", xaxis),
        y=alt.Y("lo:Q", scale=yscale(ydom), axis=yaxis),
        y2="hi:Q",
        stroke=alt.Stroke("series:N", scale=sscale, legend=leg),
    )


def line(df, ydom, yaxis, cscale, leg, xaxis, width=1.0):
    return alt.Chart(df).mark_line(strokeWidth=width).encode(
        x=xq("day", xaxis),
        y=alt.Y("value:Q", scale=yscale(ydom), axis=yaxis),
        color=alt.Color("series:N", scale=cscale, legend=leg),
    )


def yaxis(orient, values, expr, label_color="black", line_color="black", **kw):
    return alt.Axis(orient=orient, values=values, labelExpr=expr, labelColor=label_color,
                    domainColor=line_color, tickColor=line_color, tickSize=5, labelFontSize=13,
                    labelPadding=2, grid=False, zindex=2, **kw)


# ---------------- header (period shading above panel 1) ----------------
header = bg(None).properties(width=W, height=22, view=alt.ViewBackground(strokeOpacity=0))

# ---------------- panel 1 ----------------
ISO = "Isoprene+furan +fragments"
ACN = "Acetonitrile"
p1_left = yaxis("left", [0, 1, 2, 3, 4, 5], "datum.value % 2 == 0 ? datum.label : ''",
                label_color="#2f7fc1", line_color="#008000", title=None)
p1_right = yaxis("right", [0, 0.25, 0.5, 0.75, 1.0, 1.25, 1.5], "(datum.value * 2) % 1 == 0 ? datum.label : ''",
                 label_color="#008000", line_color="#808080", format=".1f", title="Acetonitrile (ppb)",
                 titleColor="#008000", titleFontSize=16, titleFontWeight="normal", titleAngle=270,
                 titleBaseline="top", titlePadding=4)
green_layer = band(band_df(green_band, ISO), [-0.19, 1.6], p1_right, "#008000",
                   alt.Scale(domain=[ISO], range=["#008000"]),
                   legend(757, 18, labelExpr="['Isoprene+furan', '+fragments']"), edge_ticks)
grey_layer = band(band_df(grey_band, ACN), [-0.5, 5.0], p1_left, "#808080",
                  alt.Scale(domain=[ACN], range=["#808080"]), legend(757, 66), edge_ticks)
p1_data = alt.layer(green_layer, grey_layer).resolve_scale(y="independent", stroke="independent")

arrows_df = pd.DataFrame({"s": arrow_seg_start, "e": arrow_seg_end})
arrow_lines = alt.Chart(arrows_df).mark_rule(color="black", strokeWidth=2.5).encode(
    x=xq("s", edge_ticks), x2="e:Q", y=alt.value(0))
chev_left = alt.Chart(pd.DataFrame({"day": arrow_left_days})).mark_point(
    shape="M 1 -0.55 L -1 0 L 1 0.55", size=676, filled=False, color="black", strokeWidth=2.5, opacity=1
).encode(x=xq("day", edge_ticks), y=alt.value(0))
chev_right = alt.Chart(pd.DataFrame({"day": arrow_right_days})).mark_point(
    shape="M -1 -0.55 L 1 0 L -1 0.55", size=676, filled=False, color="black", strokeWidth=2.5, opacity=1
).encode(x=xq("day", edge_ticks), y=alt.value(0))
period_text = alt.Chart(pd.DataFrame({"day": label_days, "label": period_names})).mark_text(
    fontSize=21, fontWeight="bold", font=FONT, baseline="middle", color="black"
).encode(x=xq("day", edge_ticks), y=alt.value(0), text="label:N")

p1 = alt.layer(bg(edge_ticks), grid(edge_ticks), p1_data, arrow_lines, chev_left, chev_right,
               period_text).properties(width=W, height=186)

# ---------------- panel 2 ----------------
TOL, ACE = "Toluene", "Acetaldehyde"
p2_axis = yaxis("left", list(range(0, 9)), "datum.value % 2 == 0 ? datum.label : ''", title=None)
p2_scale = alt.Scale(domain=[TOL, ACE], range=["#808000", "#8000ff"])
p2_leg = legend(758, 31)
p2 = alt.layer(
    bg(edge_ticks), grid(edge_ticks),
    band(band_df(toluene_band, TOL), [-0.43, 8.3], p2_axis, "#808000", p2_scale, p2_leg, edge_ticks),
    band(band_df(acetaldehyde_band, ACE), [-0.43, 8.3], p2_axis, "#8000ff", p2_scale, p2_leg, edge_ticks),
).properties(width=W, height=185)

# ---------------- panel 3 ----------------
p3_axis = yaxis("left", list(range(0, 40, 5)), "datum.value % 10 == 0 ? datum.label : ''",
                title="Concentration (ppb)", titleFontSize=22, titleFontWeight="normal", titlePadding=14,
                titleColor="black")
p3 = alt.layer(
    bg(edge_ticks), grid(edge_ticks),
    line(pairs_df(methanol, "Methanol"), [-2.1, 36.1], p3_axis,
         alt.Scale(domain=["Methanol"], range=["black"]), legend(757, 32), edge_ticks, width=2.2),
).properties(width=W, height=177)

# ---------------- panel 4 ----------------
p4_left = yaxis("left", list(range(0, 90, 10)), "datum.value % 20 == 0 ? datum.label : ''",
                label_color="#ff3399", line_color="#ff3399", title=None)
p4_right = yaxis("right", list(range(0, 8)), "datum.value % 2 == 0 ? datum.label : ''",
                 label_color="#0000ff", line_color="#0000ff", title="CO (ppm)", titleColor="#0000ff",
                 titleFontSize=16, titleFontWeight="normal", titleAngle=270, titleBaseline="top",
                 titlePadding=4)
p4_data = alt.layer(
    line(pairs_df(co, "CO"), [-0.53, 7.2], p4_right, alt.Scale(domain=["CO"], range=["#0000ff"]),
         legend(759, 51), edge_ticks),
    line(pairs_df(so2, "SO2"), [-5.1, 82.3], p4_left, alt.Scale(domain=["SO2"], range=["#ff3399"]),
         legend(759, 23), edge_ticks),
).resolve_scale(y="independent", color="independent")
p4 = alt.layer(bg(edge_ticks), grid(edge_ticks), p4_data).properties(width=W, height=192)

# ---------------- panel 5 ----------------
p5_axis = yaxis("left", list(range(0, 300, 50)), "datum.value % 100 == 0 ? datum.label : ''", title=None)
p5_scale = alt.Scale(domain=["NO", "NO2"], range=["#800000", "#a8e03c"])
p5_leg = legend(759, 22)
p5 = alt.layer(
    bg(bottom_axis), grid(bottom_axis),
    line(pairs_df(no, "NO"), [-10.2, 251.8], p5_axis, p5_scale, p5_leg, bottom_axis),
    line(pairs_df(no2, "NO2"), [-10.2, 251.8], p5_axis, p5_scale, p5_leg, bottom_axis),
).properties(width=W, height=173)

chart = alt.vconcat(header, p1, p2, p3, p4, p5, spacing=0, bounds="flush").resolve_scale(
    color="independent", stroke="independent"
).properties(
    padding={"left": 0, "top": 2, "right": 0, "bottom": 26}
).configure(font=FONT).configure_view(stroke="black", strokeWidth=1).configure_axis(
    labelFont=FONT, titleFont=FONT
)

chart.save("out.html", embed_options={"renderer": "svg", "actions": False})
